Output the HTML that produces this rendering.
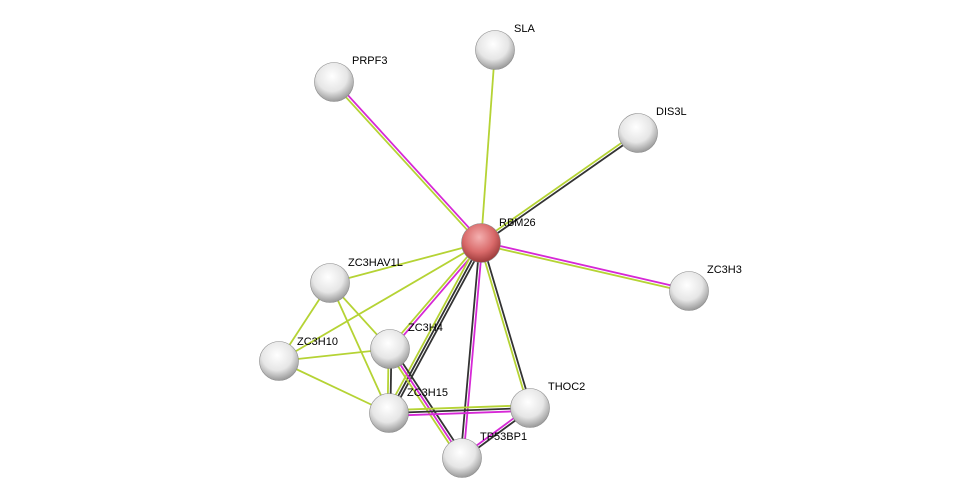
<!DOCTYPE html>
<html><head><meta charset="utf-8"><style>
html,body{margin:0;padding:0;background:#fff;width:976px;height:503px;overflow:hidden}
svg{display:block}
text{font-family:"Liberation Sans",sans-serif;font-size:11px;fill:#000}
</style></head><body>
<svg id="s" width="976" height="503" xmlns="http://www.w3.org/2000/svg">
<defs>
<radialGradient id="g" cx="0.45" cy="0.35" r="0.65">
<stop offset="0" stop-color="#ffffff"/><stop offset="0.6" stop-color="#e6e6e6"/><stop offset="1" stop-color="#9a9a9a"/></radialGradient>
<radialGradient id="r" cx="0.45" cy="0.35" r="0.65">
<stop offset="0" stop-color="#f4b0b0"/><stop offset="0.6" stop-color="#d96a6a"/><stop offset="1" stop-color="#9c3a3a"/></radialGradient>
</defs>
<g id="e"></g><g id="n"></g>
</svg>
<script>
var N={RBM26:[481,243],SLA:[495,50],PRPF3:[334,82],DIS3L:[638,133],ZC3H3:[689,291],ZC3HAV1L:[330,283],ZC3H4:[390,349],ZC3H10:[279,361],ZC3H15:[389,413],THOC2:[530,408],TP53BP1:[462,458]};
var G='#b5d334',K='#333',M='#d628d6';
var E=[["RBM26","SLA",[G]],["RBM26","PRPF3",[G,M]],["RBM26","DIS3L",[G,K]],["RBM26","ZC3H3",[M,G]],["RBM26","ZC3HAV1L",[G]],["RBM26","ZC3H10",[G]],["RBM26","ZC3H4",[M,G]],["RBM26","ZC3H15",[K,K,G]],["RBM26","TP53BP1",[M,K]],["RBM26","THOC2",[K,G]],
["ZC3HAV1L","ZC3H10",[G]],["ZC3HAV1L","ZC3H4",[G]],["ZC3HAV1L","ZC3H15",[G]],["ZC3H10","ZC3H4",[G]],["ZC3H10","ZC3H15",[G]],["ZC3H4","ZC3H15",[K,G]],["ZC3H4","TP53BP1",[K,M,G]],["ZC3H15","THOC2",[G,K,M]],["THOC2","TP53BP1",[K,M]]];
var s='';
E.forEach(function(e){var a=N[e[0]],b=N[e[1]],dx=b[0]-a[0],dy=b[1]-a[1],l=Math.hypot(dx,dy),px=-dy/l,py=dx/l,n=e[2].length;
e[2].forEach(function(c,i){var o=(i-(n-1)/2)*2.8;s+='<line x1="'+(a[0]+px*o)+'" y1="'+(a[1]+py*o)+'" x2="'+(b[0]+px*o)+'" y2="'+(b[1]+py*o)+'" stroke="'+c+'" stroke-width="1.8"/>';});});
document.getElementById('e').innerHTML=s;
var L={RBM26:[499,226],SLA:[514,32],PRPF3:[352,64],DIS3L:[656,115],ZC3H3:[707,273],ZC3HAV1L:[348,266],ZC3H4:[408,331],ZC3H10:[297,345],ZC3H15:[407,396],THOC2:[548,390],TP53BP1:[480,440]};
var t='';for(var k in N){var p=N[k];t+='<circle cx="'+p[0]+'" cy="'+p[1]+'" r="19.5" fill="url(#'+(k=="RBM26"?'r':'g')+')" stroke="#888" stroke-width="0.6"/>';t+='<text x="'+L[k][0]+'" y="'+L[k][1]+'">'+k+'</text>';}
document.getElementById('n').innerHTML=t;
</script>
</body></html>
